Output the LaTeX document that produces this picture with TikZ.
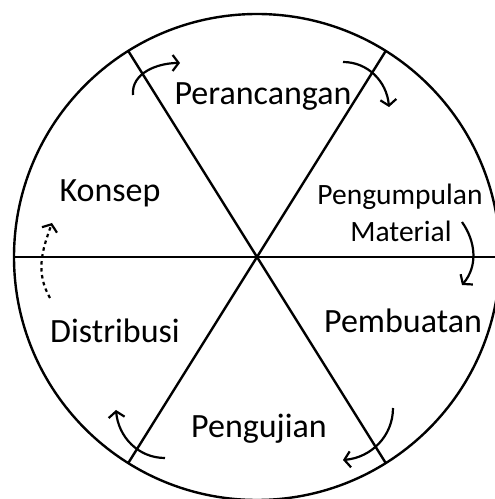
\documentclass[tikz,border=0pt]{standalone}
\usepackage{fontspec}
\setmainfont{Carlito}
\usetikzlibrary{calc}
\usetikzlibrary{arrows.meta}
\tikzset{>={Straight Barb[length=6pt,width=16pt]}}
\tikzset{step arrow/.style={->, line width=2.2pt}}
\tikzset{small label/.style={font=\fontsize{29.5}{33}\selectfont}}

\begin{document}
\begin{tikzpicture}[x=1pt, y=1pt, line width=2.4pt, font=\fontsize{34}{37}\selectfont]
    \useasboundingbox (0,0) rectangle (495,499);
    \coordinate (c) at (257,242);
    \draw (c) circle (243);
    \draw ($(c)+(180:243)$) -- ($(c)+(0:243)$);
    \draw ($(c)+(122:243)$) -- ($(c)+(-58:243)$);
    \draw ($(c)+(58:243)$) -- ($(c)+(238:243)$);

    \node (perancangan) [anchor=base] at (263,394) {Perancangan};
    \node (konsep) [anchor=base] at (110,297) {Konsep};
    \node (pengumpulan) [anchor=base, small label] at (400,294) {Pengumpulan};
    \node (material) [anchor=base, small label] at (401,257) {Material};
    \node (pembuatan) [anchor=base] at (403,166) {Pembuatan};
    \node (distribusi) [anchor=base] at (115,156) {Distribusi};
    \node (pengujian) [anchor=base] at (259,61) {Pengujian};

    \coordinate (a1) at (133,404); \coordinate (b1) at (180,436);
    \coordinate (a2) at (343,437); \coordinate (b2) at (389,392);
    \coordinate (a3) at (462,277); \coordinate (b3) at (462,214);
    \coordinate (a4) at (393,91);  \coordinate (b4) at (343,39);
    \coordinate (a5) at (165,41);  \coordinate (b5) at (116,89);
    \coordinate (a6) at (50,201);  \coordinate (b6) at (52,276);

    \draw [step arrow] (a1) to[out=95, in=180] (b1);
    \draw [step arrow] (a2) to[out=0, in=95] (b2);
    \draw [step arrow] (a3) to[out=-55, in=50] (b3);
    \draw [step arrow] (a4) to[out=-90, in=5] (b4);
    \draw [step arrow] (a5) to[out=180, in=-85] (b5);
    \draw [step arrow, dash pattern=on 3.5pt off 3.5pt] (a6) to[out=120, in=-110] (b6);
\end{tikzpicture}
\end{document}
